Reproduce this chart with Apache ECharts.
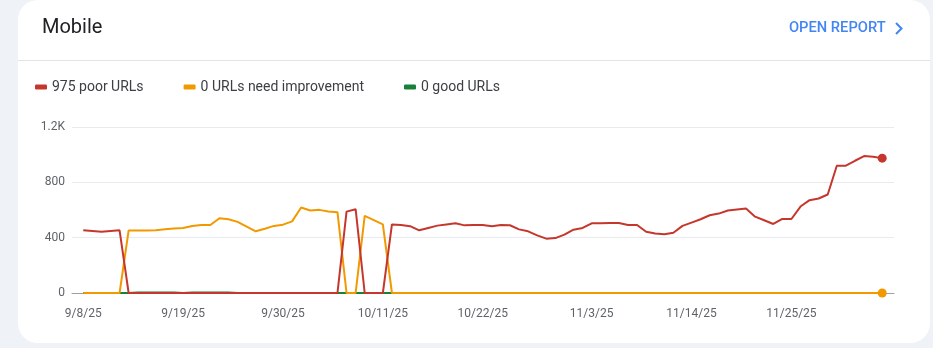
<!DOCTYPE html>
<html>
<head>
<meta charset="utf-8">
<script src="https://cdn.jsdelivr.net/npm/echarts@6/dist/echarts.min.js"></script>
<style>
  html, body { margin: 0; padding: 0; width: 933px; height: 348px; background: #eff2f7; overflow: hidden; }
  #card { position: absolute; left: 18px; top: 0px; width: 912px; height: 343px; background: #ffffff; border-radius: 20px; }
  #chart { position: absolute; left: 0; top: 0; width: 933px; height: 348px; }
</style>
</head>
<body>
<div id="card"></div>
<div id="chart"></div>
<script>
// ---- data ----
const dates = [
  '9/8/25','9/9/25','9/10/25','9/11/25','9/12/25','9/13/25','9/14/25','9/15/25','9/16/25','9/17/25',
  '9/18/25','9/19/25','9/20/25','9/21/25','9/22/25','9/23/25','9/24/25','9/25/25','9/26/25','9/27/25',
  '9/28/25','9/29/25','9/30/25','10/1/25','10/2/25','10/3/25','10/4/25','10/5/25','10/6/25','10/7/25',
  '10/8/25','10/9/25','10/10/25','10/11/25','10/12/25','10/13/25','10/14/25','10/15/25','10/16/25','10/17/25',
  '10/18/25','10/19/25','10/20/25','10/21/25','10/22/25','10/23/25','10/24/25','10/25/25','10/26/25','10/27/25',
  '10/28/25','10/29/25','10/30/25','10/31/25','11/1/25','11/2/25','11/3/25','11/4/25','11/5/25','11/6/25',
  '11/7/25','11/8/25','11/9/25','11/10/25','11/11/25','11/12/25','11/13/25','11/14/25','11/15/25','11/16/25',
  '11/17/25','11/18/25','11/19/25','11/20/25','11/21/25','11/22/25','11/23/25','11/24/25','11/25/25','11/26/25',
  '11/27/25','11/28/25','11/29/25','11/30/25','12/1/25','12/2/25','12/3/25','12/4/25','12/5/25'
];
const xTickLabels = ['9/8/25','9/19/25','9/30/25','10/11/25','10/22/25','11/3/25','11/14/25','11/25/25'];
const yTickLabels = ['0','400','800','1.2K'];

const seriesNames = ['975 poor URLs', '0 URLs need improvement', '0 good URLs'];

const poor = [
  453,448,443,448,453, 0,0,0,0,0,
  0,0,0,0,0,0,0,0,0,0,
  0,0,0,0,0,0,0,0,0,588,
  606,0,0,0,496,492,483,453,470,487,
  496,504,489,492,492,483,492,490,460,446,
  417,393,397,422,458,470,504,504,506,506,
  492,492,443,430,425,436,485,509,533,562,
  574,596,603,610,552,526,499,535,535,625,
  671,683,712,920,920,956,990,985,975
];
const needsImprovement = [
  0,0,0,0,0,452,452,452,453,460,
  467,470,484,492,492,540,533,514,480,446,
  465,485,494,518,618,596,601,589,584,0,
  0,557,527,496,0,0,0,0,0,0,
  0,0,0,0,0,0,0,0,0,0,
  0,0,0,0,0,0,0,0,0,0,
  0,0,0,0,0,0,0,0,0,0,
  0,0,0,0,0,0,0,0,0,0,
  0,0,0,0,0,0,0,0,0
];
const good = [
  0,0,0,0,0,0,4,4,4,4,
  4,0,4,4,4,4,4,0,0,0,
  0,0,0,0,0,0,0,0,0,0,
  0,0,0,0,0,0,0,0,0,0,
  0,0,0,0,0,0,0,0,0,0,
  0,0,0,0,0,0,0,0,0,0,
  0,0,0,0,0,0,0,0,0,0,
  0,0,0,0,0,0,0,0,0,0,
  0,0,0,0,0,0,0,0,0
];

const colors = { poor: '#c5372c', ni: '#f29900', good: '#188038' };
const FONT = 'Roboto, "Noto Sans", Arial, sans-serif';

function toPoints(arr, withEndDot) {
  return arr.map((v, i) => {
    if (withEndDot && i === arr.length - 1) {
      return { value: [i, v], symbol: 'circle', symbolSize: 9 };
    }
    return [i, v];
  });
}

const tickIdx = xTickLabels.map(l => dates.indexOf(l));

const chart = echarts.init(document.getElementById('chart'), null, { renderer: 'canvas' });
chart.setOption({
  animation: false,
  backgroundColor: 'transparent',
  title: {
    text: 'Mobile',
    left: 42,
    top: 18,
    padding: 0,
    textStyle: { fontFamily: FONT, fontSize: 20, fontWeight: 400, color: '#202124' }
  },
  graphic: [
    {
      type: 'text', left: 789, top: 21,
      style: { text: 'OPEN REPORT', font: '500 14.7px ' + FONT, fill: '#4285f4' }
    },
    {
      type: 'polyline',
      shape: { points: [[896, 23], [901.5, 28.5], [896, 34]] },
      style: { stroke: '#4285f4', lineWidth: 2, fill: null }
    },
    {
      type: 'line',
      shape: { x1: 18, y1: 60.5, x2: 930, y2: 60.5 },
      style: { stroke: '#e3e3e3', lineWidth: 1 }
    }
  ],
  legend: {
    left: 35,
    top: 80,
    padding: 0,
    icon: 'roundRect',
    itemWidth: 12,
    itemHeight: 5,
    itemGap: 40,
    selectedMode: false,
    data: seriesNames,
    textStyle: { fontFamily: FONT, fontSize: 14, color: '#3c4043' }
  },
  grid: { left: 72, right: 39, top: 127, bottom: 55, containLabel: false },
  xAxis: {
    type: 'value',
    min: -1.24,
    max: 89.3,
    z: 0,
    splitLine: { show: false },
    axisTick: { show: false },
    axisLine: { show: true, lineStyle: { color: '#9aa0a6', width: 1 } },
    axisLabel: {
      customValues: tickIdx,
      formatter: v => dates[Math.round(v)],
      margin: 15,
      color: '#5f6368',
      fontFamily: FONT,
      fontSize: 12
    }
  },
  yAxis: {
    type: 'value',
    min: 0,
    max: 1200,
    interval: 400,
    axisLine: { show: false },
    axisTick: { show: false },
    splitLine: { lineStyle: { color: '#e8eaed', width: 1 } },
    axisLabel: {
      formatter: v => yTickLabels[Math.round(v / 400)],
      margin: 7,
      color: '#5f6368',
      fontFamily: FONT,
      fontSize: 12
    }
  },
  series: [
    {
      name: seriesNames[2], type: 'line', data: toPoints(good, false),
      symbol: 'none', lineStyle: { width: 2, color: colors.good }, itemStyle: { color: colors.good }, z: 2
    },
    {
      name: seriesNames[1], type: 'line', data: toPoints(needsImprovement, true),
      symbol: 'none', showSymbol: true, lineStyle: { width: 2, color: colors.ni }, itemStyle: { color: colors.ni }, z: 3
    },
    {
      name: seriesNames[0], type: 'line', data: toPoints(poor, true),
      symbol: 'none', showSymbol: true, lineStyle: { width: 2, color: colors.poor }, itemStyle: { color: colors.poor }, z: 4
    }
  ]
});
</script>
</body>
</html>
